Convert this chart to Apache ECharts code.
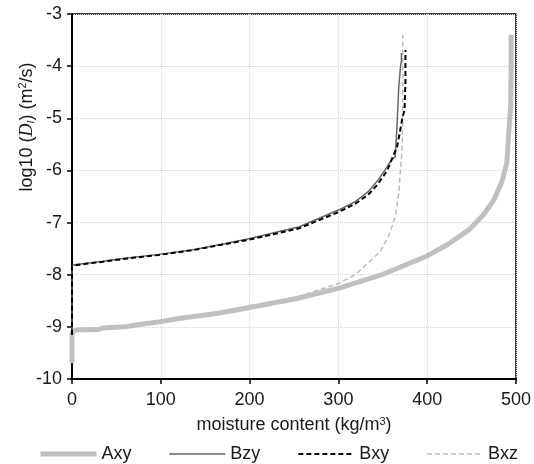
<!DOCTYPE html>
<html>
<head>
<meta charset="utf-8">
<script src="https://cdn.jsdelivr.net/npm/echarts@6/dist/echarts.min.js"></script>
<style>
  html, body { margin: 0; padding: 0; background: #fff; }
  #chart { width: 534px; height: 464px; }
</style>
</head>
<body>
<div id="chart"></div>
<script>
// data
var axyX = [0, 0, 2, 5, 30, 35, 60, 70, 100, 120, 165, 200, 255, 300, 349, 400, 422, 447, 463, 475, 484, 489.7, 491, 493, 494, 494.5, 494.5];
var axyY = [-9.7, -9.12, -9.08, -9.06, -9.05, -9.02, -9.0, -8.97, -8.9, -8.84, -8.74, -8.63, -8.45, -8.26, -8.0, -7.64, -7.43, -7.14, -6.86, -6.57, -6.22, -5.86, -5.5, -5.0, -4.8, -4.0, -3.4];

var bzyX = [0, 0, 3, 16, 35, 57, 98, 136, 173, 199, 256, 300, 319, 334, 345, 354, 360, 364, 366, 368, 370, 371, 371];
var bzyY = [-9.15, -7.83, -7.81, -7.78, -7.74, -7.69, -7.61, -7.52, -7.40, -7.31, -7.08, -6.76, -6.6, -6.4, -6.18, -5.95, -5.8, -5.74, -5.16, -4.4, -4.0, -3.9, -3.75];

var bxyX = [0, 0, 3, 16, 35, 57, 98, 136, 173, 199, 256, 300, 319, 334, 345, 355, 361, 366, 369, 372, 374.5, 375.5, 375.5];
var bxyY = [-9.15, -7.84, -7.82, -7.79, -7.75, -7.70, -7.62, -7.53, -7.41, -7.33, -7.11, -6.8, -6.64, -6.46, -6.25, -6.0, -5.75, -5.55, -5.29, -5.0, -4.84, -4.3, -3.69];

var bxzX = [0, 0, 2, 5, 30, 35, 60, 70, 100, 120, 165, 200, 255, 300, 319, 347, 357, 364, 368, 370, 371.7, 372.5, 372.5];
var bxzY = [-9.6, -9.1, -9.06, -9.04, -9.03, -9.0, -8.98, -8.95, -8.88, -8.82, -8.72, -8.6, -8.42, -8.17, -8.0, -7.56, -7.24, -6.89, -6.44, -5.99, -5.61, -5.0, -3.4];

function pairs(xs, ys) {
  return xs.map(function (x, i) { return [x, ys[i]]; });
}

var chart = echarts.init(document.getElementById('chart'));
var font = 'Liberation Sans, Arial, sans-serif';

var option = {
  animation: false,
  textStyle: { fontFamily: font },
  grid: {
    left: 72, right: 16, top: 14, bottom: 85,
    show: true, borderColor: '#000', borderWidth: 1.5
  },
  legend: {
    left: 33,
    top: 440,
    itemWidth: 56,
    itemHeight: 14,
    itemGap: 37,
    itemStyle: { opacity: 0 },
    textStyle: { fontSize: 18, color: '#1a1a1a', fontFamily: font },
    data: [
      { name: 'Axy', lineStyle: { width: 5 } },
      { name: 'Bzy', lineStyle: { width: 1.5 } },
      { name: 'Bxy', lineStyle: { width: 2 } },
      { name: 'Bxz', lineStyle: { width: 1.5 } }
    ]
  },
  xAxis: {
    type: 'value',
    min: 0, max: 500, interval: 100,
    name: 'moisture content (kg/m{sup|3})',
    nameLocation: 'middle',
    nameGap: 37,
    nameTextStyle: {
      fontSize: 18, color: '#1a1a1a', fontFamily: font,
      rich: { sup: { fontSize: 11, verticalAlign: 'top', padding: [0, 0, 8, 0], fontFamily: font, color: '#1a1a1a' } }
    },
    axisLine: { show: true, lineStyle: { color: '#000', width: 2 } },
    axisTick: { show: true, inside: false, length: 5, lineStyle: { color: '#000', width: 1.5 } },
    axisLabel: { fontSize: 18, color: '#1a1a1a', margin: 12 },
    splitLine: { show: true, lineStyle: { color: '#d6d6d6', type: 'dotted', width: 1 } }
  },
  yAxis: {
    type: 'value',
    min: -10, max: -3, interval: 1,
    axisLine: { show: true, lineStyle: { color: '#000', width: 2 } },
    axisTick: { show: true, inside: false, length: 5, lineStyle: { color: '#000', width: 1.5 } },
    axisLabel: { fontSize: 18, color: '#1a1a1a', margin: 10 },
    splitLine: { show: true, lineStyle: { color: '#d6d6d6', type: 'dotted', width: 1 } }
  },
  graphic: [{
    type: 'text',
    x: 27, y: 127,
    rotation: Math.PI / 2,
    style: {
      text: 'log10 ({i|D}{sub|l}) (m{sup|2}/s)',
      font: '18px ' + font,
      fill: '#1a1a1a',
      align: 'center',
      verticalAlign: 'middle',
      rich: {
        i: { fontFamily: 'Liberation Serif, serif', fontStyle: 'italic', fontSize: 18, fill: '#1a1a1a' },
        sub: { fontFamily: 'Liberation Serif, serif', fontStyle: 'italic', fontSize: 11, fill: '#1a1a1a', padding: [8, 0, 0, 0] },
        sup: { fontSize: 11, fill: '#1a1a1a', padding: [0, 0, 8, 0] }
      }
    }
  }],
  series: [
    {
      name: 'Axy', type: 'line', symbol: 'none', z: 3,
      data: pairs(axyX, axyY),
      lineStyle: { color: '#c0c0c0', width: 5 },
      itemStyle: { color: '#c0c0c0' }
    },
    {
      name: 'Bzy', type: 'line', symbol: 'none', z: 4,
      data: pairs(bzyX, bzyY),
      lineStyle: { color: '#666666', width: 1.5 },
      itemStyle: { color: '#666666' }
    },
    {
      name: 'Bxy', type: 'line', symbol: 'none', z: 5,
      data: pairs(bxyX, bxyY),
      lineStyle: { color: '#000', width: 2, type: [5, 3] },
      itemStyle: { color: '#000' }
    },
    {
      name: 'Bxz', type: 'line', symbol: 'none', z: 2,
      data: pairs(bxzX, bxzY),
      lineStyle: { color: '#bdbdbd', width: 1.5, type: [5, 3] },
      itemStyle: { color: '#bdbdbd' }
    }
  ]
};

chart.setOption(option);
</script>
</body>
</html>
